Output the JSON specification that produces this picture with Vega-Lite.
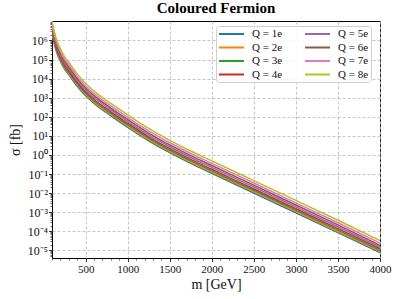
{
  "$schema": "https://vega.github.io/schema/vega-lite/v6.json",
  "width": 328,
  "height": 237,
  "autosize": {"type": "none"},
  "padding": {"left": 52, "top": 21, "right": 19, "bottom": 41},
  "background": "white",
  "title": {"text": "Coloured Fermion", "font": "Liberation Serif", "fontSize": 15, "fontWeight": "bold", "offset": 5, "color": "#000"},
  "config": {
    "view": {"stroke": "#000", "strokeWidth": 1},
    "font": "Liberation Serif",
    "axis": {
      "labelFont": "Liberation Serif",
      "labelFontSize": 11,
      "labelColor": "#111",
      "titleFont": "Liberation Serif",
      "titleFontSize": 14,
      "titleFontWeight": "normal",
      "titleColor": "#111",
      "tickColor": "#000",
      "tickWidth": 0.8,
      "tickSize": 3.5,
      "domain": false,
      "gridColor": "#b8b8b8",
      "gridDash": [3, 2],
      "gridWidth": 0.8
    }
  },
  "data": {
    "values": [
      {"m": 100, "Q = 1e": 2.239e6, "Q = 2e": 2.570e6, "Q = 3e": 3.020e6, "Q = 4e": 3.631e6, "Q = 5e": 4.571e6, "Q = 6e": 5.754e6, "Q = 7e": 7.413e6, "Q = 8e": 1.0e7},
      {"m": 150, "Q = 1e": 2.818e5, "Q = 2e": 3.236e5, "Q = 3e": 3.802e5, "Q = 4e": 4.571e5, "Q = 5e": 5.754e5, "Q = 6e": 7.244e5, "Q = 7e": 9.333e5, "Q = 8e": 1.259e6},
      {"m": 200, "Q = 1e": 7.943e4, "Q = 2e": 9.120e4, "Q = 3e": 1.072e5, "Q = 4e": 1.288e5, "Q = 5e": 1.622e5, "Q = 6e": 2.042e5, "Q = 7e": 2.630e5, "Q = 8e": 3.548e5},
      {"m": 250, "Q = 1e": 3.162e4, "Q = 2e": 3.631e4, "Q = 3e": 4.266e4, "Q = 4e": 5.129e4, "Q = 5e": 6.457e4, "Q = 6e": 8.128e4, "Q = 7e": 1.047e5, "Q = 8e": 1.413e5},
      {"m": 300, "Q = 1e": 1.585e4, "Q = 2e": 1.820e4, "Q = 3e": 2.138e4, "Q = 4e": 2.570e4, "Q = 5e": 3.236e4, "Q = 6e": 4.074e4, "Q = 7e": 5.248e4, "Q = 8e": 7.079e4},
      {"m": 400, "Q = 1e": 3.981e3, "Q = 2e": 4.571e3, "Q = 3e": 5.370e3, "Q = 4e": 6.457e3, "Q = 5e": 8.128e3, "Q = 6e": 1.023e4, "Q = 7e": 1.318e4, "Q = 8e": 1.778e4},
      {"m": 500, "Q = 1e": 1.259e3, "Q = 2e": 1.445e3, "Q = 3e": 1.698e3, "Q = 4e": 2.042e3, "Q = 5e": 2.570e3, "Q = 6e": 3.236e3, "Q = 7e": 4.169e3, "Q = 8e": 5.623e3},
      {"m": 600, "Q = 1e": 501.2, "Q = 2e": 575.4, "Q = 3e": 676.1, "Q = 4e": 812.8, "Q = 5e": 1023, "Q = 6e": 1288, "Q = 7e": 1660, "Q = 8e": 2239},
      {"m": 800, "Q = 1e": 112.2, "Q = 2e": 128.8, "Q = 3e": 151.4, "Q = 4e": 182.0, "Q = 5e": 229.1, "Q = 6e": 288.4, "Q = 7e": 371.5, "Q = 8e": 501.2},
      {"m": 1000, "Q = 1e": 28.18, "Q = 2e": 32.36, "Q = 3e": 38.02, "Q = 4e": 45.71, "Q = 5e": 57.54, "Q = 6e": 72.44, "Q = 7e": 93.33, "Q = 8e": 125.9},
      {"m": 1250, "Q = 1e": 5.495, "Q = 2e": 6.310, "Q = 3e": 7.413, "Q = 4e": 8.913, "Q = 5e": 11.22, "Q = 6e": 14.13, "Q = 7e": 18.20, "Q = 8e": 24.55},
      {"m": 1500, "Q = 1e": 1.318, "Q = 2e": 1.514, "Q = 3e": 1.778, "Q = 4e": 2.138, "Q = 5e": 2.692, "Q = 6e": 3.388, "Q = 7e": 4.365, "Q = 8e": 5.888},
      {"m": 1750, "Q = 1e": 0.3631, "Q = 2e": 0.4169, "Q = 3e": 0.4898, "Q = 4e": 0.5888, "Q = 5e": 0.7413, "Q = 6e": 0.9333, "Q = 7e": 1.202, "Q = 8e": 1.622},
      {"m": 2000, "Q = 1e": 0.1096, "Q = 2e": 0.1259, "Q = 3e": 0.1479, "Q = 4e": 0.1778, "Q = 5e": 0.2239, "Q = 6e": 0.2818, "Q = 7e": 0.3631, "Q = 8e": 0.4898},
      {"m": 2500, "Q = 1e": 1.023e-2, "Q = 2e": 1.175e-2, "Q = 3e": 1.380e-2, "Q = 4e": 1.660e-2, "Q = 5e": 2.089e-2, "Q = 6e": 2.630e-2, "Q = 7e": 3.388e-2, "Q = 8e": 4.571e-2},
      {"m": 3000, "Q = 1e": 9.333e-4, "Q = 2e": 1.072e-3, "Q = 3e": 1.259e-3, "Q = 4e": 1.514e-3, "Q = 5e": 1.905e-3, "Q = 6e": 2.399e-3, "Q = 7e": 3.090e-3, "Q = 8e": 4.169e-3},
      {"m": 3500, "Q = 1e": 8.511e-5, "Q = 2e": 9.772e-5, "Q = 3e": 1.148e-4, "Q = 4e": 1.380e-4, "Q = 5e": 1.738e-4, "Q = 6e": 2.188e-4, "Q = 7e": 2.818e-4, "Q = 8e": 3.802e-4},
      {"m": 4000, "Q = 1e": 7.762e-6, "Q = 2e": 8.913e-6, "Q = 3e": 1.023e-5, "Q = 4e": 1.230e-5, "Q = 5e": 1.514e-5, "Q = 6e": 1.862e-5, "Q = 7e": 2.399e-5, "Q = 8e": 3.236e-5}
    ]
  },
  "transform": [
    {"fold": ["Q = 1e", "Q = 2e", "Q = 3e", "Q = 4e", "Q = 5e", "Q = 6e", "Q = 7e", "Q = 8e"], "as": ["series", "sigma"]}
  ],
  "layer": [
    {
      "mark": {"type": "line", "strokeWidth": 1.5, "clip": true, "interpolate": "monotone"},
      "encoding": {
        "x": {
          "field": "m", "type": "quantitative",
          "scale": {"domain": [100, 4000], "nice": false, "zero": false},
          "axis": {"values": [500, 1000, 1500, 2000, 2500, 3000, 3500, 4000], "format": "d", "title": "m [GeV]", "grid": true, "labelPadding": 2, "titlePadding": 3, "labelFlush": false}
        },
        "y": {
          "field": "sigma", "type": "quantitative",
          "scale": {"type": "log", "domain": [4e-6, 1.05e7], "nice": false},
          "axis": {
            "values": [1e-5, 1e-4, 1e-3, 1e-2, 1e-1, 1, 10, 100, 1000, 1e4, 1e5, 1e6],
            "labelExpr": "['10⁻⁵','10⁻⁴','10⁻³','10⁻²','10⁻¹','10⁰','10¹','10²','10³','10⁴','10⁵','10⁶'][round(log(datum.value)/LN10)+5]",
            "labelFontSize": 12,
            "title": "σ [fb]", "grid": true, "labelPadding": 1, "titlePadding": 5, "labelFlush": false
          }
        },
        "color": {
          "field": "series", "type": "nominal",
          "scale": {
            "domain": ["Q = 1e", "Q = 2e", "Q = 3e", "Q = 4e", "Q = 5e", "Q = 6e", "Q = 7e", "Q = 8e"],
            "range": ["#1f77b4", "#ff7f0e", "#2ca02c", "#d62728", "#9467bd", "#8c564b", "#e377c2", "#bcbd22"]
          },
          "legend": {
            "title": null, "orient": "none", "legendX": 164, "legendY": 5, "columns": 2,
            "symbolType": "M-1,0H4", "symbolSize": 100, "symbolStrokeWidth": 2,
            "labelFont": "Liberation Serif", "labelFontSize": 11, "labelColor": "#111", "labelOffset": 22,
            "rowPadding": 2.5, "columnPadding": 18, "padding": 2,
            "fillColor": "rgba(255,255,255,0.85)", "strokeColor": "#d0d0d0", "cornerRadius": 3
          }
        }
      }
    },
    {
      "mark": {"type": "line", "opacity": 0, "clip": true},
      "encoding": {
        "x": {
          "field": "m", "type": "quantitative",
          "scale": {"domain": [100, 4000], "nice": false, "zero": false},
          "axis": {"orient": "bottom", "values": [100, 200, 300, 400, 600, 700, 800, 900, 1100, 1200, 1300, 1400, 1600, 1700, 1800, 1900, 2100, 2200, 2300, 2400, 2600, 2700, 2800, 2900, 3100, 3200, 3300, 3400, 3600, 3700, 3800, 3900], "labels": false, "grid": false, "title": null, "tickSize": 2, "tickWidth": 0.6}
        },
        "y": {
          "field": "sigma", "type": "quantitative",
          "scale": {"type": "log", "domain": [4e-6, 1.05e7], "nice": false},
          "axis": {"orient": "left", "values": [5e-6, 6e-6, 7e-6, 8e-6, 9e-6, 2e-5, 3e-5, 4e-5, 5e-5, 6e-5, 7e-5, 8e-5, 9e-5, 2e-4, 3e-4, 4e-4, 5e-4, 6e-4, 7e-4, 8e-4, 9e-4, 2e-3, 3e-3, 4e-3, 5e-3, 6e-3, 7e-3, 8e-3, 9e-3, 0.02, 0.03, 0.04, 0.05, 0.06, 0.07, 0.08, 0.09, 0.2, 0.3, 0.4, 0.5, 0.6, 0.7, 0.8, 0.9, 2, 3, 4, 5, 6, 7, 8, 9, 20, 30, 40, 50, 60, 70, 80, 90, 200, 300, 400, 500, 600, 700, 800, 900, 2000, 3000, 4000, 5000, 6000, 7000, 8000, 9000, 2e4, 3e4, 4e4, 5e4, 6e4, 7e4, 8e4, 9e4, 2e5, 3e5, 4e5, 5e5, 6e5, 7e5, 8e5, 9e5, 2e6, 3e6, 4e6, 5e6, 6e6, 7e6, 8e6, 9e6], "labels": false, "grid": false, "title": null, "tickSize": 2, "tickWidth": 0.6}
        }
      }
    }
  ],
  "resolve": {"axis": {"x": "independent", "y": "independent"}}
}
